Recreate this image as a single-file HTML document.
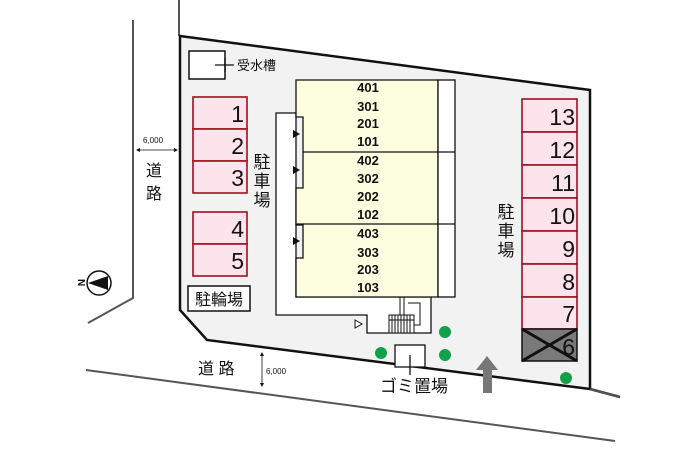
<!DOCTYPE html>
<html><head><meta charset="utf-8"><style>
html,body{margin:0;padding:0;background:#fff;width:700px;height:467px;overflow:hidden}
svg{display:block}
text{font-family:"Liberation Sans","Noto Sans CJK JP",sans-serif;fill:#111}
</style></head><body>
<svg width="700" height="467" viewBox="0 0 700 467">
<!-- roads -->
<polyline points="133,20 133,298 88,323" fill="none" stroke="#555" stroke-width="2"/>
<line x1="86" y1="370" x2="615" y2="441" stroke="#555" stroke-width="2"/>
<line x1="179" y1="0" x2="179" y2="36" stroke="#555" stroke-width="2"/>
<!-- site -->
<polygon points="180,36 590,90 590,389 620,397 590,389 207,340 180,310" fill="#f2f2f2" stroke="#111" stroke-width="2.5"/>
<line x1="590" y1="389" x2="620" y2="397" stroke="#555" stroke-width="2"/>
<!-- corridor -->
<polygon points="276,113 296,113 296,297 431,297 431,333 367,333 367,315 276,315" fill="#fff" stroke="#111" stroke-width="1.3"/>
<!-- building -->
<polygon points="296,80 438,80 438,297 296,297 296,258 303,258 303,225 296,225 296,188 303,188 303,117 296,117" fill="#fdfde0" stroke="#111" stroke-width="1.3"/>
<rect x="438" y="80" width="17" height="217" fill="#fff" stroke="#111" stroke-width="1.3"/>
<line x1="303" y1="152" x2="455" y2="152" stroke="#111" stroke-width="1.3"/>
<line x1="296" y1="224" x2="455" y2="224" stroke="#111" stroke-width="1.3"/>
<polygon points="293,130 300,134 293,138" fill="#111"/>
<polygon points="293,166 300,170 293,174" fill="#111"/>
<polygon points="293,237 300,241 293,245" fill="#111"/>
<polygon points="355,320 362,324 355,328" fill="#fff" stroke="#111" stroke-width="1"/>
<!-- stairs -->
<g stroke="#111" stroke-width="1" fill="none">
<rect x="389" y="315" width="25" height="18" fill="#fff"/>
<line x1="392" y1="315" x2="392" y2="333"/><line x1="395" y1="315" x2="395" y2="333"/><line x1="398" y1="315" x2="398" y2="333"/><line x1="401" y1="315" x2="401" y2="333"/><line x1="404" y1="315" x2="404" y2="333"/><line x1="407" y1="315" x2="407" y2="333"/><line x1="410" y1="315" x2="410" y2="333"/>
<line x1="389" y1="320" x2="414" y2="320"/>
<polyline points="400,297 400,315"/><polyline points="404,297 404,315"/><polyline points="408,303 420,303 420,325 414,325"/>
</g>
<g font-size="13" font-weight="bold" text-anchor="middle">
<text x="368" y="92">401</text><text x="368" y="111">301</text><text x="368" y="128">201</text><text x="368" y="146">101</text>
<text x="368" y="165">402</text><text x="368" y="183">302</text><text x="368" y="201">202</text><text x="368" y="219">102</text>
<text x="368" y="238">403</text><text x="368" y="257">303</text><text x="368" y="274">203</text><text x="368" y="292">103</text>
</g>
<!-- water tank -->
<rect x="189" y="51" width="36" height="28" fill="#fff" stroke="#111" stroke-width="1.5"/>
<line x1="215" y1="65" x2="234" y2="65" stroke="#111" stroke-width="1.3"/>
<line x1="225" y1="58" x2="225" y2="72" stroke="#111" stroke-width="1.3"/>
<text x="237" y="70" font-size="13">受水槽</text>
<!-- left parking -->
<g fill="#fde4ec" stroke="#a01020" stroke-width="1.6">
<rect x="193" y="97" width="54" height="32"/><rect x="193" y="129" width="54" height="32"/><rect x="193" y="161" width="54" height="32"/>
<rect x="193" y="212" width="54" height="32"/><rect x="193" y="244" width="54" height="32"/>
</g>
<g font-size="23" text-anchor="end">
<text x="244" y="122">1</text><text x="244" y="154">2</text><text x="244" y="186">3</text><text x="244" y="237">4</text><text x="244" y="269">5</text>
</g>
<rect x="188" y="286" width="62" height="25" fill="#fff" stroke="#111" stroke-width="1.5"/>
<text x="219" y="305" font-size="16" text-anchor="middle">駐輪場</text>
<g font-size="17" text-anchor="middle">
<text x="262" y="168">駐</text><text x="262" y="187">車</text><text x="262" y="206">場</text>
<text x="506" y="218">駐</text><text x="506" y="237">車</text><text x="506" y="256">場</text>
</g>
<!-- right parking -->
<g fill="#fde4ec" stroke="#a01020" stroke-width="1.6">
<rect x="522" y="99" width="55" height="33"/><rect x="522" y="132" width="55" height="33"/><rect x="522" y="165" width="55" height="33"/>
<rect x="522" y="198" width="55" height="33"/><rect x="522" y="231" width="55" height="33"/><rect x="522" y="264" width="55" height="33"/>
<rect x="522" y="297" width="55" height="32"/>
</g>
<rect x="522" y="329" width="55" height="32" fill="#7a7a7a" stroke="#111" stroke-width="1.5"/>
<g font-size="23" text-anchor="end">
<text x="575" y="125">13</text><text x="575" y="158">12</text><text x="575" y="191">11</text><text x="575" y="224">10</text>
<text x="575" y="257">9</text><text x="575" y="290">8</text><text x="575" y="322">7</text><text x="575" y="355">6</text>
</g>
<line x1="522" y1="329" x2="577" y2="361" stroke="#111" stroke-width="3"/>
<line x1="522" y1="361" x2="577" y2="329" stroke="#111" stroke-width="3"/>
<!-- green dots -->
<g fill="#12a04a"><circle cx="445" cy="332" r="6"/><circle cx="381" cy="353" r="6"/><circle cx="445" cy="355" r="6"/><circle cx="566" cy="378" r="6"/></g>
<!-- garbage -->
<rect x="395" y="345" width="30" height="22" fill="#fff" stroke="#111" stroke-width="1.3"/>
<line x1="410" y1="355" x2="410" y2="375" stroke="#111" stroke-width="1.3"/>
<text x="380" y="392" font-size="17">ゴミ置場</text>
<!-- arrow -->
<polygon points="487,356 498,370 492,370 492,393 483,393 483,370 476,370" fill="#777"/>
<!-- roads labels -->
<text x="198" y="374" font-size="16">道 路</text>
<text x="146" y="176" font-size="16">道</text><text x="146" y="199" font-size="16">路</text>
<g stroke="#111" stroke-width="0.8"><line x1="138" y1="150" x2="176" y2="150"/><line x1="262" y1="354" x2="262" y2="385"/></g>
<polygon points="136,150 140,148 140,152" fill="#111"/><polygon points="178,150 174,148 174,152" fill="#111"/>
<polygon points="262,352 260,356 264,356" fill="#111"/><polygon points="262,387 260,383 264,383" fill="#111"/>
<text x="143" y="143" font-size="8">6,000</text>
<text x="266" y="374" font-size="8">6,000</text>
<!-- compass -->
<circle cx="99" cy="283" r="12" fill="#fff" stroke="#111" stroke-width="1.5"/>
<polygon points="88,283 108,276 108,290" fill="#111"/>
<text x="0" y="0" font-size="10" font-weight="bold" transform="translate(78,279) rotate(90)">N</text>
</svg>
</body></html>
